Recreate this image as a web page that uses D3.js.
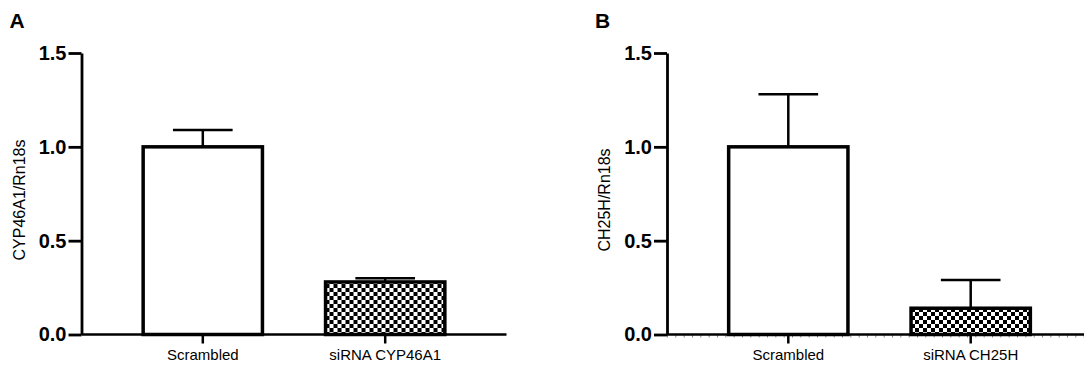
<html>
<head>
<meta charset="utf-8"/>
<script src="https://d3js.org/d3.v7.min.js"></script>
<style type="text/css">
body {
  margin: 0;
  overflow: hidden;
  background: #fff;
  font-family: Arial, "Liberation Sans", sans-serif;
}
</style>
</head>
<body>
<div id="v"></div>
<script type="text/javascript">
// panel A
var categoriesA = ["Scrambled", "siRNA CYP46A1"];
var meanA = [1.0, 0.28];
var errA = [0.09, 0.02];
// panel B
var categoriesB = ["Scrambled", "siRNA CH25H"];
var meanB = [1.0, 0.14];
var errB = [0.28, 0.15];

var yTicks = [0.0, 0.5, 1.0, 1.5];
var fills = ["#fff", "url(#checker)"];

var width = 1084, height = 374;
var svg = d3.select("#v").append("svg")
  .attr("width", width)
  .attr("height", height);

// checkerboard fill for the siRNA bars
var pat = svg.append("defs").append("pattern")
  .attr("id", "checker")
  .attr("patternUnits", "userSpaceOnUse")
  .attr("width", 8).attr("height", 8);
pat.append("rect").attr("width", 8).attr("height", 8).attr("fill", "#fff");
pat.append("rect").attr("width", 4).attr("height", 4).attr("fill", "#000");
pat.append("rect").attr("x", 4).attr("y", 4).attr("width", 4).attr("height", 4).attr("fill", "#000");

function panel(ox, letter, yLabel, cats, means, errs, minorTicks) {
  var g = svg.append("g").attr("transform", "translate(" + ox + ",0)");
  var y = d3.scaleLinear().domain([0, 1.5]).range([334.5, 53]);
  var x = d3.scaleBand().domain(cats).range([0, 425])
    .paddingInner(0.346).paddingOuter(0.338);

  g.append("text")
    .attr("x", -72).attr("y", 28)
    .style("font-size", "21px").style("font-weight", "bold")
    .text(letter);

  g.append("text")
    .attr("transform", "translate(-57," + 200 + ") rotate(-90)")
    .attr("text-anchor", "middle")
    .style("font-size", "16px")
    .text(yLabel);

  if (minorTicks) {
    var xm = d3.scaleLinear().domain([0, 60]).range([0, 500]);
    g.append("g")
      .attr("transform", "translate(0," + y(0) + ")")
      .call(d3.axisBottom(xm).ticks(60).tickSize(3).tickFormat(""))
      .call(function(a) {
        a.select(".domain").remove();
        a.selectAll("line").attr("stroke", "#888").attr("stroke-width", 1);
      });
  }

  // x axis
  var xa = g.append("g")
    .attr("transform", "translate(0," + y(0) + ")")
    .call(d3.axisBottom(x).tickSize(9).tickPadding(6).tickSizeOuter(0));
  xa.select(".domain").attr("stroke-width", 2.5).attr("d", "M0,0H" + (minorTicks ? 500 : 425));
  xa.selectAll(".tick line").attr("stroke-width", 2.5);
  xa.selectAll("text").style("font-size", "15px").style("font-family", "Arial, 'Liberation Sans', sans-serif").attr("fill", "#000");

  // bars
  var bars = g.selectAll(".bar")
    .data(cats).enter()
    .append("g").attr("class", "bar");

  bars.append("line")
    .attr("x1", function(d) { return x(d) + x.bandwidth() / 2; })
    .attr("x2", function(d) { return x(d) + x.bandwidth() / 2; })
    .attr("y1", function(d, i) { return y(means[i]); })
    .attr("y2", function(d, i) { return y(means[i] + errs[i]); })
    .attr("stroke", "#000").attr("stroke-width", 2.5);
  bars.append("line")
    .attr("x1", function(d) { return x(d) + x.bandwidth() / 4; })
    .attr("x2", function(d) { return x(d) + x.bandwidth() * 3 / 4; })
    .attr("y1", function(d, i) { return y(means[i] + errs[i]); })
    .attr("y2", function(d, i) { return y(means[i] + errs[i]); })
    .attr("stroke", "#000").attr("stroke-width", 2.5);

  bars.append("rect")
    .attr("x", function(d) { return x(d); })
    .attr("y", function(d, i) { return y(means[i]); })
    .attr("width", x.bandwidth())
    .attr("height", function(d, i) { return y(0) - y(means[i]); })
    .attr("fill", function(d, i) { return fills[i]; })
    .attr("stroke", "#000").attr("stroke-width", 3.5);

  // y axis
  var ya = g.append("g")
    .call(d3.axisLeft(y).tickValues(yTicks).tickFormat(d3.format(".1f")).tickSize(13).tickPadding(2).tickSizeOuter(0));
  ya.select(".domain").attr("stroke-width", 2.8);
  ya.selectAll(".tick line").attr("stroke-width", 2.8);
  ya.selectAll("text")
    .style("font-size", "20px").style("font-weight", "bold")
    .style("font-family", "Arial, 'Liberation Sans', sans-serif")
    .attr("fill", "#000");
}

panel(81.5, "A", "CYP46A1/Rn18s", categoriesA, meanA, errA, false);
panel(667, "B", "CH25H/Rn18s", categoriesB, meanB, errB, true);
</script>
</body>
</html>
